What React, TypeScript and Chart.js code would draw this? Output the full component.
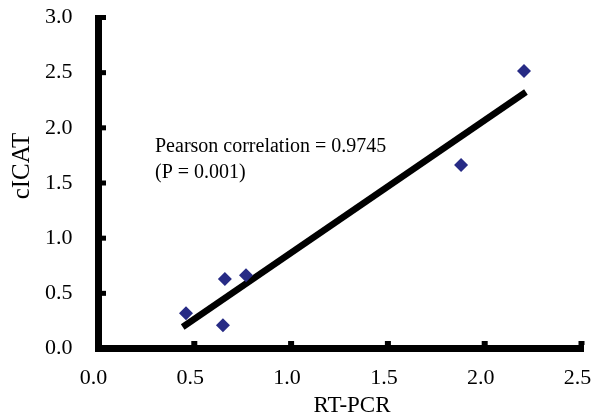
import { useEffect, useRef } from 'react';
import { Chart, registerables } from 'chart.js';

Chart.register(...registerables);

const rtPcr = [0.457, 0.648, 0.658, 0.767, 1.878, 2.203];
const cIcat = [0.32, 0.21, 0.63, 0.665, 1.663, 2.515];
const fitX = [0.44, 2.213];
const fitY = [0.195, 2.325];
const xTicks = [0, 0.5, 1, 1.5, 2, 2.5];
const yTicks = [0, 0.5, 1, 1.5, 2, 2.5, 3];
const annotationLines = ['Pearson correlation = 0.9745', '(P = 0.001)'];
const xTitle = 'RT-PCR';
const yTitle = 'cICAT';

const FONT = "'Liberation Serif', 'Times New Roman', serif";

const decor = {
  id: 'decor',
  beforeDatasetsDraw(chart: any) {
    const { ctx } = chart;
    const xs = chart.scales.x;
    const ys = chart.scales.y;
    const x0 = xs.getPixelForValue(0);
    const y0 = ys.getPixelForValue(0);
    const yTop = ys.getPixelForValue(3);
    const xEnd = xs.getPixelForValue(2.5);
    ctx.save();
    ctx.fillStyle = '#000';
    const lw = 7;
    ctx.fillRect(x0 - 2.5, yTop - 2.5, lw, y0 - yTop + 6);
    ctx.fillRect(x0 - 2.5, y0 - 3.5, xEnd - x0 + 5, lw);
    yTicks.forEach((v) => {
      const py = ys.getPixelForValue(v);
      ctx.fillRect(x0 + 4.5, py - 2.5, 4, 5);
    });
    xTicks.forEach((v) => {
      if (v === 0) return;
      const px = xs.getPixelForValue(v);
      ctx.fillRect(px - 3, y0 - 7.5, 6, 4);
    });
    ctx.restore();
  },
  afterDraw(chart: any) {
    const { ctx } = chart;
    ctx.save();
    ctx.fillStyle = '#000';
    ctx.font = `20px ${FONT}`;
    ctx.textAlign = 'left';
    ctx.textBaseline = 'alphabetic';
    ctx.fillText(annotationLines[0], 155, 152);
    ctx.fillText(annotationLines[1], 155, 178);
    ctx.textAlign = 'center';
    ctx.textBaseline = 'middle';
    ctx.font = `23px ${FONT}`;
    ctx.fillText(xTitle, 352, 406);
    ctx.translate(22, 166);
    ctx.rotate(-Math.PI / 2);
    ctx.font = `25px ${FONT}`;
    ctx.fillText(yTitle, 0, 0);
    ctx.restore();
  },
};

export default function App() {
  const ref = useRef<HTMLCanvasElement | null>(null);
  useEffect(() => {
    document.body.style.margin = '0';
    const canvas = ref.current;
    if (!canvas) return;
    const chart = new Chart(canvas, {
      type: 'scatter',
      data: {
        datasets: [
          {
            label: 'cICAT vs RT-PCR',
            data: rtPcr.map((x, i) => ({ x, y: cIcat[i] })),
            pointStyle: 'rectRot',
            pointRadius: 7,
            pointHoverRadius: 7,
            backgroundColor: '#272B85',
            borderColor: '#272B85',
            borderWidth: 0,
            showLine: false,
          },
          {
            label: 'fit',
            type: 'line',
            data: fitX.map((x, i) => ({ x, y: fitY[i] })),
            borderColor: '#000',
            borderWidth: 6.5,
            pointRadius: 0,
            borderCapStyle: 'butt',
            fill: false,
          } as any,
        ],
      },
      options: {
        animation: false,
        responsive: false,
        devicePixelRatio: 1,
        layout: { padding: { left: 0, right: 16.5, top: 17.5, bottom: 0 } },
        plugins: { legend: { display: false }, tooltip: { enabled: false } },
        scales: {
          x: {
            type: 'linear',
            min: 0,
            max: 2.5,
            afterBuildTicks: (s: any) => {
              s.ticks = xTicks.map((v) => ({ value: v }));
            },
            afterFit: (s: any) => {
              s.height = 71.5;
              s.paddingLeft = 0;
              s.paddingRight = 0;
            },
            grid: { display: false, drawTicks: false },
            border: { display: false },
            ticks: {
              color: '#000',
              padding: 17,
              labelOffset: -4,
              font: { family: FONT, size: 22 },
              callback: (v: any) => Number(v).toFixed(1),
            },
          },
          y: {
            type: 'linear',
            min: 0,
            max: 3,
            afterBuildTicks: (s: any) => {
              s.ticks = yTicks.map((v) => ({ value: v }));
            },
            afterFit: (s: any) => {
              s.width = 97.5;
              s.paddingTop = 0;
              s.paddingBottom = 0;
            },
            grid: { display: false, drawTicks: false },
            border: { display: false },
            ticks: {
              color: '#000',
              padding: 25,
              font: { family: FONT, size: 22 },
              callback: (v: any) => Number(v).toFixed(1),
            },
          },
        },
      },
      plugins: [decor],
    });
    return () => chart.destroy();
  }, []);
  return <canvas ref={ref} width={598} height={420} style={{ display: 'block' }} />;
}
